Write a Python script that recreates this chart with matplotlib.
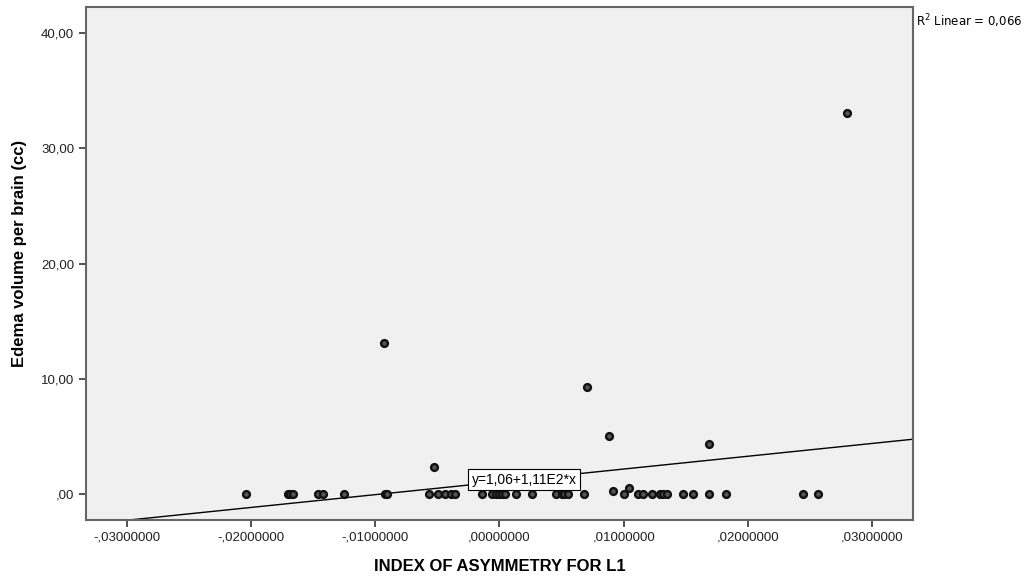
import matplotlib
matplotlib.use("Agg")
import matplotlib.pyplot as plt
import numpy as np

# Data
zero_x = [-0.02043, -0.01706, -0.01690, -0.01665, -0.01464, -0.01424, -0.01255,
          -0.00925, -0.00909, -0.00571, -0.00499, -0.00435, -0.00394, -0.00362,
          -0.00137, -0.00064, -0.00032, 0.00000, 0.00024, 0.00048, 0.00129,
          0.00265, 0.00451, 0.00507, 0.00523, 0.00555, 0.00684, 0.01006,
          0.01118, 0.01158, 0.01231, 0.01295, 0.01319, 0.01352, 0.01480,
          0.01561, 0.01689, 0.01826, 0.02446, 0.02566]
zero_y = [0.0] * len(zero_x)
other_x = [0.02797, -0.00933, 0.00708, 0.00885, 0.01689, -0.00531, 0.01046, 0.00917]
other_y = [33.05, 13.10, 9.30, 5.03, 4.34, 2.34, 0.52, 0.26]

x_vals = np.array(zero_x + other_x)
y_vals = np.array(zero_y + other_y)

intercept = 1.06
slope = 111.0
r2_text = "R$^2$ Linear = 0,066"
eq_text = "y=1,06+1,11E2*x"

xticks = [-0.03, -0.02, -0.01, 0.0, 0.01, 0.02, 0.03]
xticklabels = ["-,03000000", "-,02000000", "-,01000000", ",00000000",
               ",01000000", ",02000000", ",03000000"]
yticks = [0, 10, 20, 30, 40]
yticklabels = [",00", "10,00", "20,00", "30,00", "40,00"]

plt.rcParams["font.family"] = ["Liberation Sans", "DejaVu Sans"]

fig = plt.figure(figsize=(10.31, 5.81), dpi=100)
ax = fig.add_axes([86/1031, 1-520/581, (913-86)/1031, (520-7)/581])
ax.set_facecolor("#F0F0F0")

xlim = (-0.0333, 0.0333)
ylim = (-2.25, 42.25)
ax.set_xlim(*xlim)
ax.set_ylim(*ylim)

# regression line
lx = np.array(xlim)
ax.plot(lx, intercept + slope * lx, color="black", lw=1.0, zorder=2)

ax.scatter(x_vals, y_vals, s=24, marker="o", facecolor="#555555",
           edgecolor="#111111", linewidths=1.7, zorder=3)

ax.text(0.0020, 1.25, eq_text, fontsize=10, ha="center", va="center",
        bbox=dict(boxstyle="square,pad=0.25", facecolor="white",
                  edgecolor="black", linewidth=0.8), zorder=4)

ax.set_xticks(xticks)
ax.set_xticklabels(xticklabels)
ax.set_yticks(yticks)
ax.set_yticklabels(yticklabels)
ax.tick_params(direction="out", length=5, width=1.2, color="#333333",
               labelsize=9.5, labelcolor="#222222", top=False, right=False)
for sp in ax.spines.values():
    sp.set_color("#666666")
    sp.set_linewidth(1.5)

ax.set_xlabel("INDEX OF ASYMMETRY FOR L1", fontsize=12, fontweight="bold")
ax.set_ylabel("Edema volume per brain (cc)", fontsize=12, fontweight="bold")
ax.xaxis.set_label_coords(0.5, -0.076)
ax.yaxis.set_label_coords(-0.071, 0.52)

fig.text(916/1031, 1-21/581, r2_text, fontsize=8.5, ha="left", va="center",
         family="DejaVu Sans")

fig.savefig("out.png", dpi=100)
